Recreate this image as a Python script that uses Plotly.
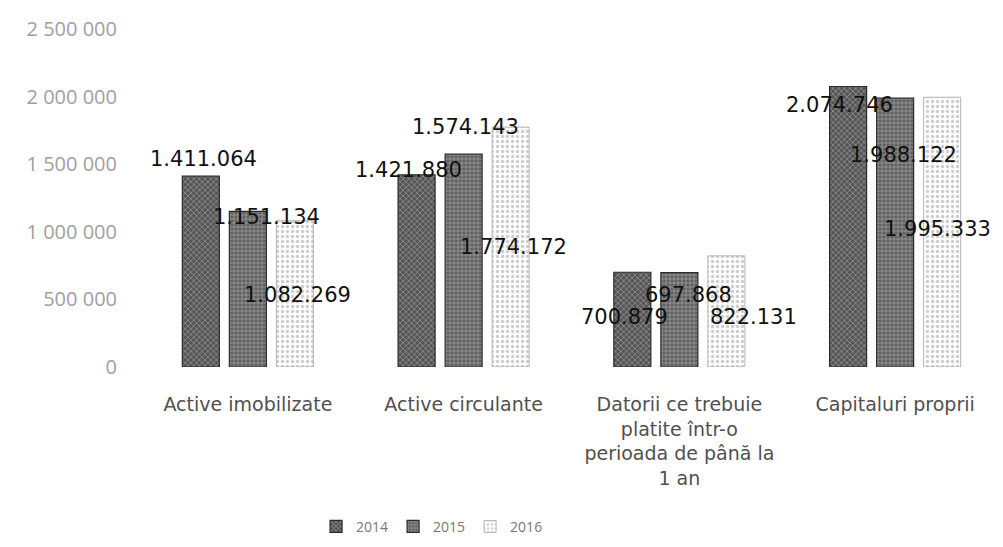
import plotly.graph_objects as go

# Categorii si valori (lei)
categories = [
    "Active imobilizate",
    "Active circulante",
    "Datorii ce trebuie<br>platite într-o<br>perioada de până la<br>1 an",
    "Capitaluri proprii",
]
years = ["2014", "2015", "2016"]
values_2014 = [1411064, 1421880, 700879, 2074746]
values_2015 = [1151134, 1574143, 697868, 1988122]
values_2016 = [1082269, 1774172, 822131, 1995333]
y_ticks = [0, 500000, 1000000, 1500000, 2000000, 2500000]

series = [values_2014, values_2015, values_2016]

# Placement of the value labels: height as a fraction of the bar value,
# and a small horizontal nudge in pixels.
label_frac = [
    [1.09, 1.025, 0.53, 0.934],
    [0.964, 1.128, 0.76, 0.79],
    [0.49, 0.50, 0.45, 0.51],
]
label_dx = [
    [3, -8, -8, -9],
    [19, 2, 9, 8],
    [3, 3, 27, -5],
]

styles = [
    dict(color="#5a5a5a", pattern=dict(shape="x", fgcolor="#e6e6e6", bgcolor="#555555",
                                       size=4, solidity=0.3),
         line=dict(color="#2a2a2a", width=1.2)),
    dict(color="#666666", pattern=dict(shape="+", fgcolor="#eeeeee", bgcolor="#606060",
                                       size=4, solidity=0.3),
         line=dict(color="#2a2a2a", width=1.2)),
    dict(color="#ffffff", pattern=dict(shape=".", fgcolor="#9a9a9a", bgcolor="#ffffff",
                                       size=5, solidity=0.35),
         line=dict(color="#b5b5b5", width=1)),
]

BARGAP = 0.346
fig = go.Figure()
for yr, vals, st in zip(years, series, styles):
    fig.add_trace(go.Bar(name=yr, x=categories, y=vals, marker=st))

# Value labels, anchored to each bar's slot in the group
slot = (1 - BARGAP) / 3
for j, vals in enumerate(series):
    for i, v in enumerate(vals):
        fig.add_annotation(
            x=i + (j - 1) * slot, xref="x",
            y=v * label_frac[j][i], yref="y",
            text=f"{v:,}".replace(",", "."),
            showarrow=False, xshift=label_dx[j][i],
            font=dict(family="DejaVu Sans", size=21, color="#111111"),
        )

fig.update_layout(
    width=1003, height=547,
    margin=dict(l=140, r=0, t=29, b=180),
    paper_bgcolor="white", plot_bgcolor="white",
    barmode="group", bargap=BARGAP, bargroupgap=0.213,
    separators=", ",
    showlegend=True,
    legend=dict(orientation="h", x=0.204, xanchor="left", y=-0.473, yanchor="middle",
                font=dict(family="Open Sans", size=14, color="#777777"),
                itemwidth=30, traceorder="normal"),
    font=dict(family="Open Sans"),
)
fig.update_xaxes(
    type="category", range=[-0.5, 3.5],
    showline=False, showgrid=False, ticks="",
    tickfont=dict(family="DejaVu Sans", size=19, color="#505050"),
    ticklabelstandoff=24,
)
fig.update_yaxes(
    range=[0, 2500000], tickvals=y_ticks, tickformat=",",
    showgrid=False, zeroline=False, showline=False, ticks="",
    tickfont=dict(family="Open Sans", size=20, color="#a0a0a0"),
    ticklabelstandoff=22,
)

fig.write_html("out.html")
